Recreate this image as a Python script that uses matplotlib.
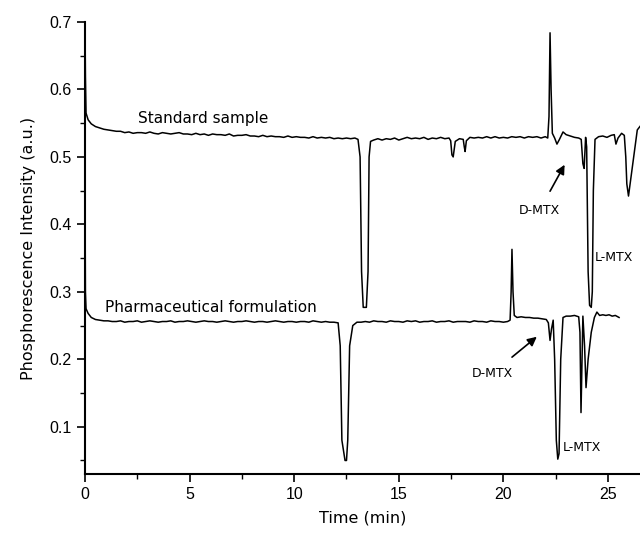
import matplotlib
matplotlib.use("Agg")
import matplotlib.pyplot as plt
from matplotlib.ticker import MultipleLocator

# Standard sample trace (time in min, intensity in a.u.)
t_std = [0.00, 0.02, 0.05, 0.15, 0.30, 0.50, 0.70, 0.90, 1.10, 1.30,
         1.50, 1.70, 1.90, 2.10, 2.30, 2.50, 2.70, 2.90, 3.10, 3.30,
         3.50, 3.70, 3.90, 4.10, 4.30, 4.50, 4.70, 4.90, 5.10, 5.30,
         5.50, 5.70, 5.90, 6.10, 6.30, 6.50, 6.70, 6.90, 7.10, 7.30,
         7.50, 7.70, 7.90, 8.10, 8.30, 8.50, 8.70, 8.90, 9.10, 9.30,
         9.50, 9.70, 9.90, 10.10, 10.30, 10.50, 10.70, 10.90, 11.10, 11.30,
         11.50, 11.70, 11.90, 12.10, 12.30, 12.50, 12.70, 12.90, 13.05, 13.15,
         13.22, 13.30, 13.45, 13.53, 13.58, 13.65, 13.80, 14.00, 14.20, 14.40,
         14.60, 14.80, 15.00, 15.20, 15.40, 15.60, 15.80, 16.00, 16.20, 16.40,
         16.60, 16.80, 17.00, 17.20, 17.40, 17.48, 17.54, 17.60, 17.70, 17.90,
         18.08, 18.13, 18.17, 18.23, 18.40, 18.60, 18.80, 19.00, 19.20, 19.40,
         19.60, 19.80, 20.00, 20.20, 20.40, 20.60, 20.80, 21.00, 21.20, 21.40,
         21.60, 21.80, 22.00, 22.12, 22.18, 22.23, 22.28, 22.34, 22.45, 22.56,
         22.68, 22.85, 23.00, 23.20, 23.40, 23.60, 23.72, 23.80, 23.86, 23.93,
         23.98, 24.05, 24.12, 24.20, 24.25, 24.30, 24.38, 24.55, 24.75, 24.95,
         25.15, 25.30, 25.38, 25.48, 25.65, 25.78, 25.85, 25.90, 25.98, 26.10,
         26.25, 26.40, 26.55]
i_std = [0.700, 0.620, 0.565, 0.555, 0.549, 0.545, 0.543, 0.541, 0.540, 0.539,
         0.538, 0.538, 0.536, 0.537, 0.535, 0.536, 0.536, 0.535, 0.537, 0.535,
         0.534, 0.536, 0.535, 0.534, 0.535, 0.536, 0.534, 0.534, 0.533, 0.535,
         0.533, 0.534, 0.532, 0.534, 0.533, 0.533, 0.532, 0.534, 0.531, 0.532,
         0.532, 0.533, 0.531, 0.531, 0.530, 0.532, 0.530, 0.531, 0.530, 0.530,
         0.529, 0.531, 0.529, 0.530, 0.529, 0.529, 0.528, 0.530, 0.528, 0.529,
         0.528, 0.529, 0.527, 0.528, 0.527, 0.528, 0.527, 0.528, 0.526, 0.500,
         0.330, 0.277, 0.277, 0.330, 0.500, 0.523, 0.525, 0.527, 0.525, 0.527,
         0.526, 0.528, 0.525, 0.527, 0.529, 0.527, 0.528, 0.527, 0.529, 0.526,
         0.528, 0.527, 0.529, 0.527, 0.528, 0.524, 0.503, 0.500, 0.523, 0.527,
         0.526, 0.515, 0.508, 0.524, 0.529, 0.528, 0.529, 0.528, 0.530, 0.528,
         0.530, 0.528, 0.529, 0.528, 0.530, 0.529, 0.530, 0.528, 0.530, 0.529,
         0.530, 0.528, 0.530, 0.528, 0.560, 0.684, 0.600, 0.535, 0.528, 0.519,
         0.526, 0.537, 0.533, 0.531, 0.529, 0.528, 0.526, 0.490, 0.483, 0.529,
         0.515, 0.330, 0.280, 0.277, 0.300, 0.450, 0.526, 0.530, 0.531, 0.529,
         0.532, 0.533, 0.519, 0.528, 0.535, 0.532, 0.500, 0.460, 0.442, 0.470,
         0.505, 0.540, 0.546]

# Pharmaceutical formulation trace
t_ph = [0.00, 0.02, 0.05, 0.15, 0.30, 0.50, 0.70, 0.90, 1.10, 1.30,
        1.50, 1.70, 1.90, 2.10, 2.30, 2.50, 2.70, 2.90, 3.10, 3.30,
        3.50, 3.70, 3.90, 4.10, 4.30, 4.50, 4.70, 4.90, 5.10, 5.30,
        5.50, 5.70, 5.90, 6.10, 6.30, 6.50, 6.70, 6.90, 7.10, 7.30,
        7.50, 7.70, 7.90, 8.10, 8.30, 8.50, 8.70, 8.90, 9.10, 9.30,
        9.50, 9.70, 9.90, 10.10, 10.30, 10.50, 10.70, 10.90, 11.10, 11.30,
        11.50, 11.70, 11.90, 12.10, 12.20, 12.28, 12.43, 12.50, 12.56, 12.65,
        12.80, 13.00, 13.20, 13.40, 13.60, 13.80, 14.00, 14.20, 14.40, 14.60,
        14.80, 15.00, 15.20, 15.40, 15.60, 15.80, 16.00, 16.20, 16.40, 16.60,
        16.80, 17.00, 17.20, 17.40, 17.60, 17.80, 18.00, 18.20, 18.40, 18.60,
        18.80, 19.00, 19.20, 19.40, 19.60, 19.80, 20.00, 20.20, 20.32, 20.37,
        20.41, 20.46, 20.52, 20.65, 20.85, 21.05, 21.25, 21.45, 21.65, 21.85,
        22.05, 22.15, 22.23, 22.30, 22.38, 22.45, 22.53, 22.60, 22.66, 22.74,
        22.85, 23.00, 23.20, 23.40, 23.60, 23.66, 23.71, 23.76, 23.80, 23.88,
        23.95, 24.05, 24.20, 24.35, 24.47, 24.60, 24.75, 24.90, 25.05, 25.20,
        25.35, 25.53]
i_ph = [0.450, 0.300, 0.275, 0.268, 0.262, 0.259, 0.258, 0.257, 0.257, 0.256,
        0.256, 0.257, 0.255, 0.256, 0.256, 0.257, 0.255, 0.256, 0.257, 0.256,
        0.255, 0.256, 0.256, 0.257, 0.255, 0.256, 0.256, 0.257, 0.256, 0.255,
        0.256, 0.257, 0.256, 0.256, 0.255, 0.256, 0.257, 0.256, 0.255, 0.256,
        0.256, 0.257, 0.256, 0.255, 0.256, 0.256, 0.255, 0.256, 0.257, 0.256,
        0.255, 0.256, 0.256, 0.255, 0.256, 0.256, 0.255, 0.257, 0.256, 0.255,
        0.256, 0.255, 0.255, 0.254, 0.220, 0.080, 0.050, 0.050, 0.080, 0.220,
        0.250, 0.255, 0.255, 0.256, 0.255, 0.257, 0.256, 0.256, 0.255, 0.257,
        0.256, 0.256, 0.255, 0.257, 0.256, 0.257, 0.255, 0.256, 0.256, 0.257,
        0.255, 0.256, 0.256, 0.257, 0.255, 0.256, 0.256, 0.256, 0.255, 0.257,
        0.256, 0.256, 0.255, 0.257, 0.256, 0.256, 0.255, 0.256, 0.258, 0.300,
        0.363, 0.300, 0.265, 0.262, 0.263, 0.262, 0.262, 0.261, 0.261, 0.260,
        0.259, 0.254, 0.228, 0.245, 0.258, 0.200, 0.080, 0.052, 0.060, 0.200,
        0.262, 0.264, 0.264, 0.265, 0.263, 0.240, 0.121, 0.200, 0.264, 0.220,
        0.158, 0.200, 0.240, 0.262, 0.270, 0.265, 0.266, 0.265, 0.266, 0.264,
        0.265, 0.262]

plt.figure(figsize=(6.4, 5.34), dpi=100)
ax = plt.axes([0.1328, 0.1124, 0.8672, 0.8464])

ax.plot(t_std, i_std, c="black", linewidth=1.1)
ax.plot(t_ph, i_ph, c="black", linewidth=1.1)

ax.set_xlim(0, 26.53)
ax.set_ylim(0.03, 0.7)
ax.xaxis.set_major_locator(MultipleLocator(5))
ax.xaxis.set_minor_locator(MultipleLocator(2.5))
ax.yaxis.set_major_locator(MultipleLocator(0.1))
ax.yaxis.set_minor_locator(MultipleLocator(0.05))
ax.set_yticks([0.1, 0.2, 0.3, 0.4, 0.5, 0.6, 0.7])
ax.tick_params(which="major", length=6, width=1.2, labelsize=11.5, direction="out")
ax.tick_params(which="minor", length=3.5, width=1.0, direction="out")
for lab in ax.get_xticklabels() + ax.get_yticklabels():
    lab.set_fontfamily("Liberation Sans")

ax.spines["top"].set_visible(False)
ax.spines["right"].set_visible(False)
ax.spines["left"].set_linewidth(1.5)
ax.spines["bottom"].set_linewidth(1.5)

ax.set_xlabel("Time (min)", fontsize=11.5, labelpad=6)
ax.set_ylabel("Phosphorescence Intensity (a.u.)", fontsize=11.5, labelpad=10)

# Trace labels
ax.text(2.53, 0.557, "Standard sample", fontsize=11, va="center", ha="left")
ax.text(0.96, 0.277, "Pharmaceutical formulation", fontsize=11, va="center", ha="left")

# Peak annotations
ax.annotate("D-MTX", xy=(22.99, 0.492), xytext=(21.73, 0.421), fontsize=9,
            ha="center", va="center",
            arrowprops=dict(arrowstyle="-|>,head_length=0.6,head_width=0.3",
                            color="black", lw=1.2, shrinkA=8))
ax.text(24.38, 0.351, "L-MTX", fontsize=9, ha="left", va="center")
ax.annotate("D-MTX", xy=(21.70, 0.236), xytext=(19.46, 0.179), fontsize=9,
            ha="center", va="center",
            arrowprops=dict(arrowstyle="-|>,head_length=0.6,head_width=0.3",
                            color="black", lw=1.2, shrinkA=8))
ax.text(22.85, 0.069, "L-MTX", fontsize=9, ha="left", va="center")

plt.savefig("out.png", dpi=100)
